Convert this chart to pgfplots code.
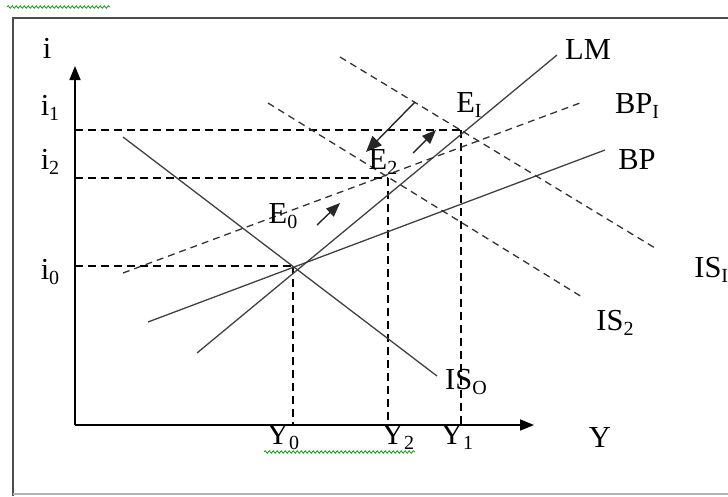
\documentclass[border=0pt]{standalone}
\usepackage{pgfplots}
\pgfplotsset{compat=1.18}
\usepackage{fontspec}
\setmainfont{Liberation Serif}
\usetikzlibrary{arrows.meta,decorations.pathmorphing}
\newcommand\lb[2]{#1\raisebox{-0.35ex}{\fontsize{20}{21}\selectfont #2}}
\begin{document}
\fontsize{30.5}{32}\selectfont
\begin{tikzpicture}
\begin{axis}[x=1pt,y=1pt,xmin=0,xmax=728,ymin=0,ymax=496,y dir=reverse,
  hide axis,clip=false]
\path (axis cs:0,0) rectangle (axis cs:728,496);
% frame
\draw[black!70,line width=2pt] (axis cs:13,496) -- (axis cs:13,18) -- (axis cs:728,18);
\draw[black!30,line width=1.2pt] (axis cs:13,494) -- (axis cs:728,494);
% spell-check squiggles
\draw[green!60!black,line width=0.7pt,decorate,decoration={snake,amplitude=1.3pt,segment length=4pt}] (axis cs:7,7) -- (axis cs:110,7);
\draw[green!60!black,line width=0.7pt,decorate,decoration={snake,amplitude=1.3pt,segment length=4pt}] (axis cs:264,452) -- (axis cs:415,452);
% axes
\draw[black,line width=1.6pt,-{Triangle[length=14pt,width=11pt]}] (axis cs:75,425) -- (axis cs:75,66);
\draw[black,line width=1.6pt,-{Triangle[length=14pt,width=11pt]}] (axis cs:75,425) -- (axis cs:534,425);
% guide lines
\addplot[black,line width=1.3pt,dash pattern=on 8pt off 5pt] coordinates {(75,130) (462,130)};
\addplot[black,line width=1.3pt,dash pattern=on 8pt off 5pt] coordinates {(75,178) (388,178)};
\addplot[black,line width=1.3pt,dash pattern=on 8pt off 5pt] coordinates {(75,266) (294,266)};
\addplot[black,line width=1.3pt,dash pattern=on 8pt off 5pt] coordinates {(293,266) (293,425)};
\addplot[black,line width=1.3pt,dash pattern=on 8pt off 5pt] coordinates {(388,178) (388,425)};
\addplot[black,line width=1.3pt,dash pattern=on 8pt off 5pt] coordinates {(461,130) (461,425)};
% curves
\addplot[black!75,line width=1.3pt] coordinates {(123,137) (437,376)}; % IS0
\addplot[black!75,line width=1.3pt] coordinates {(197,353) (557,55)}; % LM
\addplot[black!75,line width=1.3pt] coordinates {(148,322) (605,150)}; % BP
\addplot[black!80,line width=1.3pt,dash pattern=on 7pt off 5pt] coordinates {(123,273) (580,103)}; % BP1
\addplot[black!80,line width=1.3pt,dash pattern=on 7pt off 5pt] coordinates {(340,57) (655,248)}; % IS1
\addplot[black!80,line width=1.3pt,dash pattern=on 7pt off 5pt] coordinates {(268,103) (582,297)}; % IS2
% arrows
\addplot[black!85,line width=1.4pt,-{Triangle[length=16pt,width=13pt]}] coordinates {(415,102) (366,152)};
\addplot[black!85,line width=1.4pt,-{Triangle[length=14pt,width=11pt]}] coordinates {(413,153) (436,130)};
\addplot[black!85,line width=1.4pt,-{Triangle[length=14pt,width=11pt]}] coordinates {(317,225) (340,203)};
% labels
\node at (axis cs:47,48) {i};
\node at (axis cs:50,108) {\lb{i}{1}};
\node at (axis cs:50,162) {\lb{i}{2}};
\node at (axis cs:50,272) {\lb{i}{0}};
\node at (axis cs:283,437) {\lb{Y}{0}};
\node at (axis cs:398,437) {\lb{Y}{2}};
\node at (axis cs:457,437) {\lb{Y}{1}};
\node at (axis cs:600,438) {Y};
\node at (axis cs:466,382) {\lb{IS}{O}};
\node at (axis cs:588,50) {LM};
\node at (axis cs:637,106) {\lb{BP}{I}};
\node at (axis cs:637,160) {BP};
\node[anchor=west] at (axis cs:684,270) {\lb{IS}{I}};
\node at (axis cs:615,323) {\lb{IS}{2}};
\node at (axis cs:469,105) {\lb{E}{I}};
\node at (axis cs:383,162) {\lb{E}{2}};
\node at (axis cs:283,216) {\lb{E}{0}};
\end{axis}
\pgfresetboundingbox
\path (current axis.south west) rectangle (current axis.north east);
\end{tikzpicture}
\end{document}
